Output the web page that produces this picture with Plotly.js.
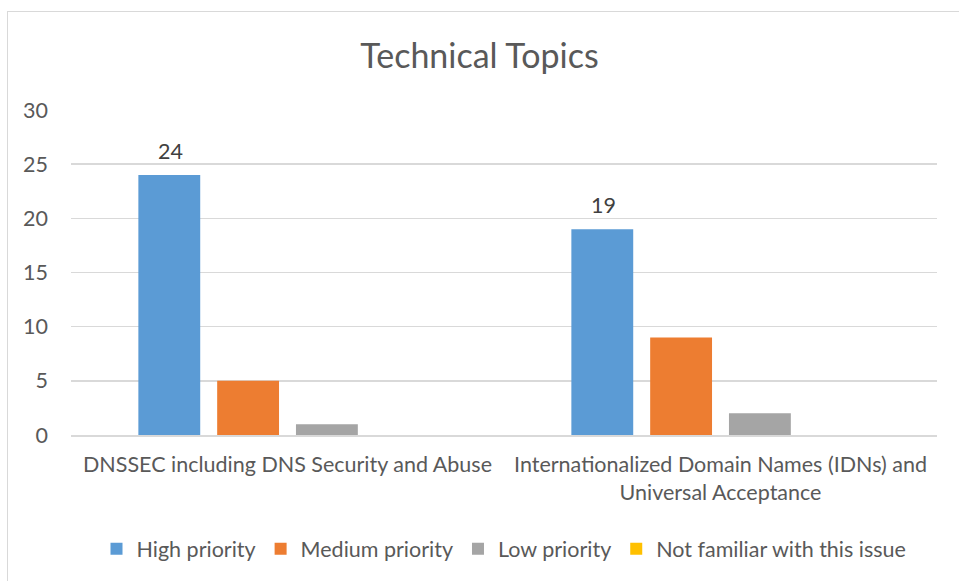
<!DOCTYPE html>
<html>
<head>
<meta charset="utf-8">
<script src="https://cdn.plot.ly/plotly-3.0.1.min.js"></script>
<style>
html,body{margin:0;padding:0;background:#fff;overflow:hidden;}
#chart{width:959px;height:581px;}
#frame{position:absolute;left:7px;top:11px;width:1000px;height:1000px;border:1.5px solid #d9d9d9;pointer-events:none;}
</style>
</head>
<body>
<div id="chart"></div>
<div id="frame"></div>
<script>
const categories = ["DNSSEC including DNS Security and Abuse", "Internationalized Domain Names (IDNs) and<br>Universal Acceptance"];
const seriesNames = ["High priority", "Medium priority", "Low priority", "Not familiar with this issue"];
const highPriority = [24, 19];
const mediumPriority = [5, 9];
const lowPriority = [1, 2];
const notFamiliar = [0, 0];
const colors = ["#5b9bd5", "#ed7d31", "#a5a5a5", "#ffc000"];
const yTicks = [0, 5, 10, 15, 20, 25, 30];

const seriesValues = [highPriority, mediumPriority, lowPriority, notFamiliar];
const font = "Lato, 'Open Sans', sans-serif";
const fs = 21.5;

const traces = seriesValues.map((vals, i) => ({
  type: "bar",
  name: seriesNames[i],
  x: categories,
  y: vals,
  marker: {color: colors[i]},
  hoverinfo: "x+y+name"
}));

// data labels on High priority bars, placed via the axes' own coordinates
const annotations = categories.map((c, j) => ({
  x: c, y: highPriority[j], xref: "x", yref: "y",
  xshift: -1.5 * (430 * 0.728 / 4),
  text: String(highPriority[j]),
  showarrow: false,
  yanchor: "bottom",
  yshift: 9,
  font: {family: font, size: fs, color: "#404040"}
}));

const layout = {
  width: 959, height: 581,
  margin: {l: 71, r: 22, t: 110, b: 146},
  paper_bgcolor: "#ffffff",
  plot_bgcolor: "#ffffff",
  font: {family: font, color: "#595959", size: fs},
  title: {text: "Technical Topics", font: {family: font, size: 34, color: "#595959"}, x: 0.5, xanchor: "center", y: 0.903, yanchor: "middle"},
  barmode: "group",
  bargap: 0.272,
  bargroupgap: 0.215,
  annotations: annotations,
  xaxis: {
    type: "category",
    showgrid: false,
    showline: true,
    linecolor: "#d9d9d9",
    linewidth: 1.5,
    ticks: "",
    ticklabelstandoff: 10,
    tickfont: {family: font, size: fs, color: "#595959"},
    automargin: false
  },
  yaxis: {
    range: [0, 30],
    tickvals: yTicks,
    ticktext: yTicks.map(String),
    showgrid: true,
    gridcolor: "#d9d9d9",
    gridwidth: 1.5,
    zeroline: false,
    showline: false,
    ticks: "",
    ticklabelstandoff: 22,
    tickfont: {family: font, size: fs, color: "#595959"},
    automargin: false
  },
  legend: {
    orientation: "h",
    x: 0.5, xanchor: "center",
    y: -0.35, yanchor: "middle",
    font: {family: font, size: fs, color: "#595959"},
    itemwidth: 30,
    traceorder: "normal"
  },
  showlegend: true
};

Plotly.newPlot("chart", traces, layout, {displayModeBar: false, staticPlot: true});
</script>
</body>
</html>
